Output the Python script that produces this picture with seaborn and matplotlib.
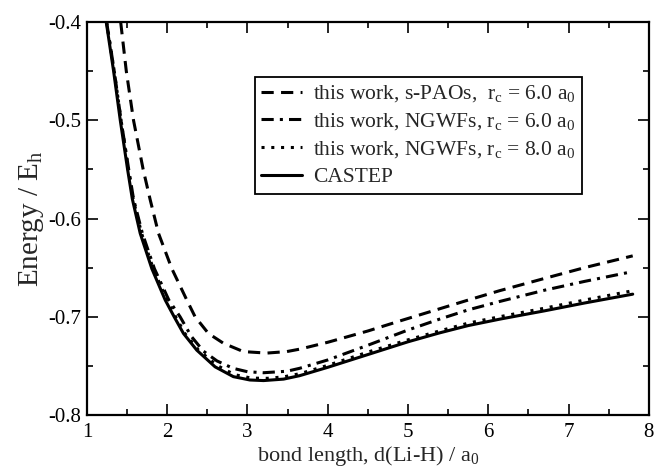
import numpy as np
import pandas as pd
import matplotlib
matplotlib.use('Agg')
import matplotlib.pyplot as plt
import seaborn as sns
from matplotlib.ticker import MultipleLocator


# bond length (a0) and energy (Eh)
d_paos = [1.42, 1.49, 1.58, 1.70, 1.788, 1.891, 2.057, 2.244, 2.347, 2.513, 2.70, 2.949,
          3.239, 3.488, 3.65, 4.0, 4.5, 4.89, 5.39, 5.75, 6.14, 6.7, 7.2, 7.8]
e_paos = [-0.400, -0.450, -0.500, -0.550, -0.581, -0.615, -0.651, -0.683, -0.700, -0.717,
          -0.727, -0.7355, -0.737, -0.7355, -0.733, -0.726, -0.7145, -0.7045, -0.692, -0.683,
          -0.6735, -0.661, -0.650, -0.638]

d_ngwf6 = [1.245, 1.34, 1.425, 1.52, 1.58, 1.69, 1.84, 2.02, 2.16, 2.3, 2.45, 2.62, 2.82,
           3.0, 3.2, 3.49, 3.65, 4.0, 4.5, 5.0, 5.39, 5.75, 6.14, 6.7, 7.2, 7.8]
e_ngwf6 = [-0.400, -0.450, -0.500, -0.550, -0.580, -0.615, -0.651, -0.683, -0.700, -0.720,
           -0.735, -0.745, -0.7525, -0.756, -0.757, -0.7555, -0.7525, -0.744, -0.729, -0.7135,
           -0.7025, -0.693, -0.6845, -0.673, -0.664, -0.654]

d_ngwf8 = [1.245, 1.34, 1.425, 1.515, 1.575, 1.68, 1.825, 1.995, 2.105, 2.22, 2.39, 2.62,
           2.84, 3.05, 3.25, 3.45, 3.65, 4.0, 4.5, 5.0, 5.39, 5.75, 6.14, 6.7, 7.2, 7.8]
e_ngwf8 = [-0.400, -0.450, -0.500, -0.550, -0.580, -0.615, -0.651, -0.683, -0.700, -0.717,
           -0.734, -0.7495, -0.759, -0.7625, -0.7627, -0.7612, -0.758, -0.7495, -0.736,
           -0.7235, -0.7145, -0.7065, -0.700, -0.6913, -0.683, -0.6735]

d_castep = [1.24, 1.332, 1.415, 1.506, 1.565, 1.663, 1.808, 1.975, 2.086, 2.202, 2.368,
            2.596, 2.824, 3.03, 3.2, 3.45, 3.65, 4.0, 4.5, 5.0, 5.39, 5.75, 6.14, 6.7, 7.2, 7.8]
e_castep = [-0.400, -0.450, -0.500, -0.550, -0.580, -0.615, -0.651, -0.683, -0.700, -0.717,
            -0.734, -0.751, -0.761, -0.7644, -0.765, -0.7635, -0.760, -0.7515, -0.7385,
            -0.7255, -0.7165, -0.709, -0.7025, -0.694, -0.686, -0.677]

labels = [r'this work, s-PAOs,  r$_\mathrm{c}$ = 6.0 a$_\mathrm{0}$',
          r'this work, NGWFs, r$_\mathrm{c}$ = 6.0 a$_\mathrm{0}$',
          r'this work, NGWFs, r$_\mathrm{c}$ = 8.0 a$_\mathrm{0}$',
          'CASTEP']

sns.set_theme(style='ticks')
plt.rcParams['font.family'] = ['Liberation Serif', 'DejaVu Serif']
plt.rcParams['mathtext.fontset'] = 'custom'
plt.rcParams['mathtext.rm'] = 'Liberation Serif'
plt.rcParams['mathtext.it'] = 'Liberation Serif:italic'
plt.rcParams['axes.unicode_minus'] = False

fig = plt.figure(figsize=(6.54, 4.71), dpi=100)
ax = fig.add_axes([0.133, 0.119, 0.859, 0.834])

series = [(d_paos, e_paos, (0, (4, 2.4))),
          (d_ngwf6, e_ngwf6, (0, (4, 2, 1, 2))),
          (d_ngwf8, e_ngwf8, (0, (1, 2.2))),
          (d_castep, e_castep, '-')]

for (xs, ys, ls), lab in zip(series, labels):
    df = pd.DataFrame({'d': xs, 'E': ys})
    sns.lineplot(data=df, x='d', y='E', ax=ax, color='black', lw=2.2,
                 linestyle=ls, estimator=None, sort=False, label=lab)

ax.set_xlim(1, 8)
ax.set_ylim(-0.8, -0.4)
ax.xaxis.set_major_locator(MultipleLocator(1))
ax.xaxis.set_minor_locator(MultipleLocator(0.5))
ax.yaxis.set_minor_locator(MultipleLocator(0.05))
ax.set_yticks(np.arange(-0.8, -0.39, 0.1))
ax.set_yticklabels(['-0.8', '-0.7', '-0.6', '-0.5', '-0.4'])
ax.tick_params(which='both', direction='in', top=True, right=True, width=1.2,
               labelsize=15, colors='black', pad=4)
ax.tick_params(axis='x', which='major', pad=6)
ax.tick_params(which='major', length=8)
ax.tick_params(which='minor', length=4.5)
for sp in ax.spines.values():
    sp.set_linewidth(1.6)
    sp.set_color('black')

ax.set_xlabel(r'bond length, d(Li-H) / a$_\mathrm{0}$', fontsize=16, labelpad=1)
ax.set_ylabel(r'Energy / E$_\mathrm{h}$', fontsize=21, labelpad=2)

leg = ax.legend(loc='upper left', bbox_to_anchor=(0.299, 0.860), borderaxespad=0,
                fontsize=15.5, frameon=True, fancybox=False, handlelength=1.9,
                handletextpad=0.5, labelspacing=0.32, borderpad=0.3)
leg.get_frame().set_edgecolor('black')
leg.get_frame().set_linewidth(1.3)
leg.get_frame().set_alpha(1)

fig.savefig('out.png', dpi=100)
